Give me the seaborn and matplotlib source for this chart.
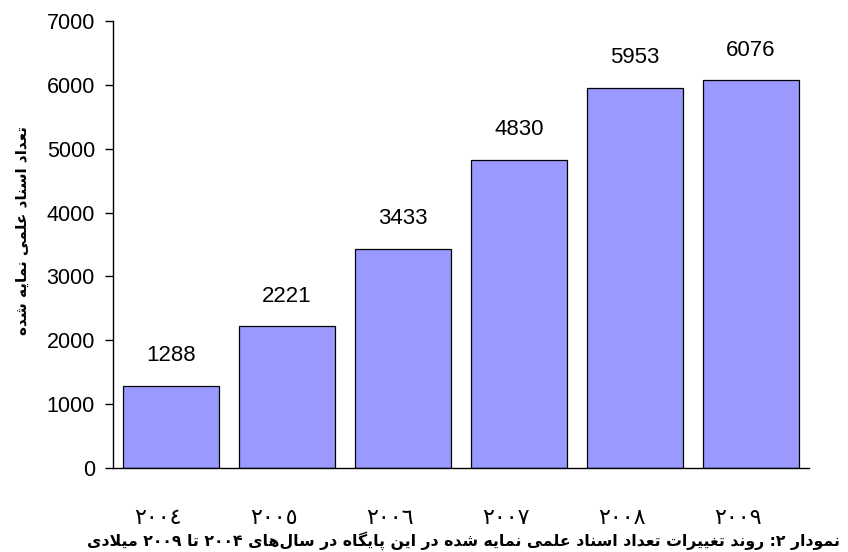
import matplotlib
matplotlib.use("Agg")
import matplotlib.pyplot as plt
import matplotlib.transforms as mtransforms
import seaborn as sns
import pandas as pd

# ---- data ----
years = ["٢٠٠٤", "٢٠٠٥", "٢٠٠٦", "٢٠٠٧", "٢٠٠٨", "٢٠٠٩"]
counts = [1288, 2221, 3433, 4830, 5953, 6076]
y_ticks = [0, 1000, 2000, 3000, 4000, 5000, 6000, 7000]
y_label = "تعداد اسناد علمی نمایه شده"
caption = "نمودار ۲: روند تغییرات تعداد اسناد علمی نمایه شده در این پایگاه در سال‌های ۲۰۰۴ تا ۲۰۰۹ میلادی"

# ---- minimal Arabic/Persian shaping (no external libs) ----
# forms: (isolated, final, initial, medial); None initial => right-joining only
FORMS = {
    "\u0622": ("\uFE81", "\uFE82", None, None),
    "\u0627": ("\uFE8D", "\uFE8E", None, None),
    "\u0628": ("\uFE8F", "\uFE90", "\uFE91", "\uFE92"),
    "\u067E": ("\uFB56", "\uFB57", "\uFB58", "\uFB59"),
    "\u062A": ("\uFE95", "\uFE96", "\uFE97", "\uFE98"),
    "\u062B": ("\uFE99", "\uFE9A", "\uFE9B", "\uFE9C"),
    "\u062C": ("\uFE9D", "\uFE9E", "\uFE9F", "\uFEA0"),
    "\u0686": ("\uFB7A", "\uFB7B", "\uFB7C", "\uFB7D"),
    "\u062D": ("\uFEA1", "\uFEA2", "\uFEA3", "\uFEA4"),
    "\u062E": ("\uFEA5", "\uFEA6", "\uFEA7", "\uFEA8"),
    "\u062F": ("\uFEA9", "\uFEAA", None, None),
    "\u0630": ("\uFEAB", "\uFEAC", None, None),
    "\u0631": ("\uFEAD", "\uFEAE", None, None),
    "\u0632": ("\uFEAF", "\uFEB0", None, None),
    "\u0698": ("\uFB8A", "\uFB8B", None, None),
    "\u0633": ("\uFEB1", "\uFEB2", "\uFEB3", "\uFEB4"),
    "\u0634": ("\uFEB5", "\uFEB6", "\uFEB7", "\uFEB8"),
    "\u0635": ("\uFEB9", "\uFEBA", "\uFEBB", "\uFEBC"),
    "\u0636": ("\uFEBD", "\uFEBE", "\uFEBF", "\uFEC0"),
    "\u0637": ("\uFEC1", "\uFEC2", "\uFEC3", "\uFEC4"),
    "\u0638": ("\uFEC5", "\uFEC6", "\uFEC7", "\uFEC8"),
    "\u0639": ("\uFEC9", "\uFECA", "\uFECB", "\uFECC"),
    "\u063A": ("\uFECD", "\uFECE", "\uFECF", "\uFED0"),
    "\u0641": ("\uFED1", "\uFED2", "\uFED3", "\uFED4"),
    "\u0642": ("\uFED5", "\uFED6", "\uFED7", "\uFED8"),
    "\u06A9": ("\uFB8E", "\uFB8F", "\uFB90", "\uFB91"),
    "\u06AF": ("\uFB92", "\uFB93", "\uFB94", "\uFB95"),
    "\u0644": ("\uFEDD", "\uFEDE", "\uFEDF", "\uFEE0"),
    "\u0645": ("\uFEE1", "\uFEE2", "\uFEE3", "\uFEE4"),
    "\u0646": ("\uFEE5", "\uFEE6", "\uFEE7", "\uFEE8"),
    "\u0647": ("\uFEE9", "\uFEEA", "\uFEEB", "\uFEEC"),
    "\u0648": ("\uFEED", "\uFEEE", None, None),
    "\u06CC": ("\uFBFC", "\uFBFD", "\uFBFE", "\uFBFF"),
    "\u064A": ("\uFEF1", "\uFEF2", "\uFEF3", "\uFEF4"),
}


def shape(text):
    chars = list(text)
    n = len(chars)
    out = []
    i = 0

    def dual(c):
        return c in FORMS and FORMS[c][2] is not None

    while i < n:
        c = chars[i]
        if c not in FORMS:
            out.append(c)
            i += 1
            continue
        prev = chars[i - 1] if i > 0 else ""
        join_prev = dual(prev)
        # lam-alef ligature
        if c == "\u0644" and i + 1 < n and chars[i + 1] == "\u0627":
            out.append("\uFEFC" if join_prev else "\uFEFB")
            i += 2
            continue
        nxt = chars[i + 1] if i + 1 < n else ""
        join_next = dual(c) and nxt in FORMS
        iso, fin, ini, med = FORMS[c]
        if join_prev and join_next:
            out.append(med)
        elif join_prev:
            out.append(fin)
        elif join_next:
            out.append(ini)
        else:
            out.append(iso)
        i += 1
    # visual order: reverse, keep digit runs left-to-right
    rev = "".join(out)[::-1]
    res, run = [], []
    for ch in rev:
        if ch.isdigit():
            run.append(ch)
        else:
            if run:
                res.append("".join(run[::-1]))
                run = []
            res.append(ch)
    if run:
        res.append("".join(run[::-1]))
    return "".join(res).replace("\u200c", "")


# ---- plot ----
sns.set_style("white")
plt.rcParams["font.family"] = ["Liberation Sans", "DejaVu Sans"]
plt.rcParams["text.color"] = "black"
plt.rcParams["xtick.color"] = "black"
plt.rcParams["ytick.color"] = "black"

df = pd.DataFrame({"year": years, "count": counts})

fig = plt.figure(figsize=(8.48, 5.52), dpi=100)
ax = fig.add_axes([0.1333, 0.152, 0.8207, 0.810])

sns.barplot(data=df, x="year", y="count", color="#9999FF", saturation=1,
            width=0.83, edgecolor="black", linewidth=0.9, ax=ax)

for i, v in enumerate(counts):
    ax.annotate(f"{v}", (i, v), xytext=(0, 14), textcoords="offset points",
                ha="center", va="bottom", fontsize=16, color="black")

ax.set_xlim(-0.5, 5.5)
ax.set_ylim(0, 7000)
ax.set_yticks(y_ticks)
ax.set_yticklabels([str(t) for t in y_ticks], fontsize=15.5)
ax.tick_params(axis="y", direction="out", length=6, width=1, color="black", pad=7, left=True)
ax.tick_params(axis="x", length=0, pad=29)
ax.set_xticks(range(len(years)))
ax.set_xticklabels(years, fontsize=16, family=["DejaVu Sans"])
shift = mtransforms.ScaledTranslation(-0.13, 0, fig.dpi_scale_trans)
for lab in ax.get_xticklabels():
    lab.set_transform(lab.get_transform() + shift)

ax.set_xlabel("")
ax.set_ylabel("")
for s in ["top", "right"]:
    ax.spines[s].set_visible(False)
for s in ["left", "bottom"]:
    ax.spines[s].set_color("black")
    ax.spines[s].set_linewidth(1)

fig.text(0.026, 0.583, shape(y_label), rotation=90, ha="center", va="center",
         fontsize=11, fontweight="bold", family=["DejaVu Sans"])
fig.text(0.991, 0.004, shape(caption), ha="right", va="bottom",
         fontsize=11.3, fontweight="bold", family=["DejaVu Sans"])

fig.savefig("out.png", dpi=100)
